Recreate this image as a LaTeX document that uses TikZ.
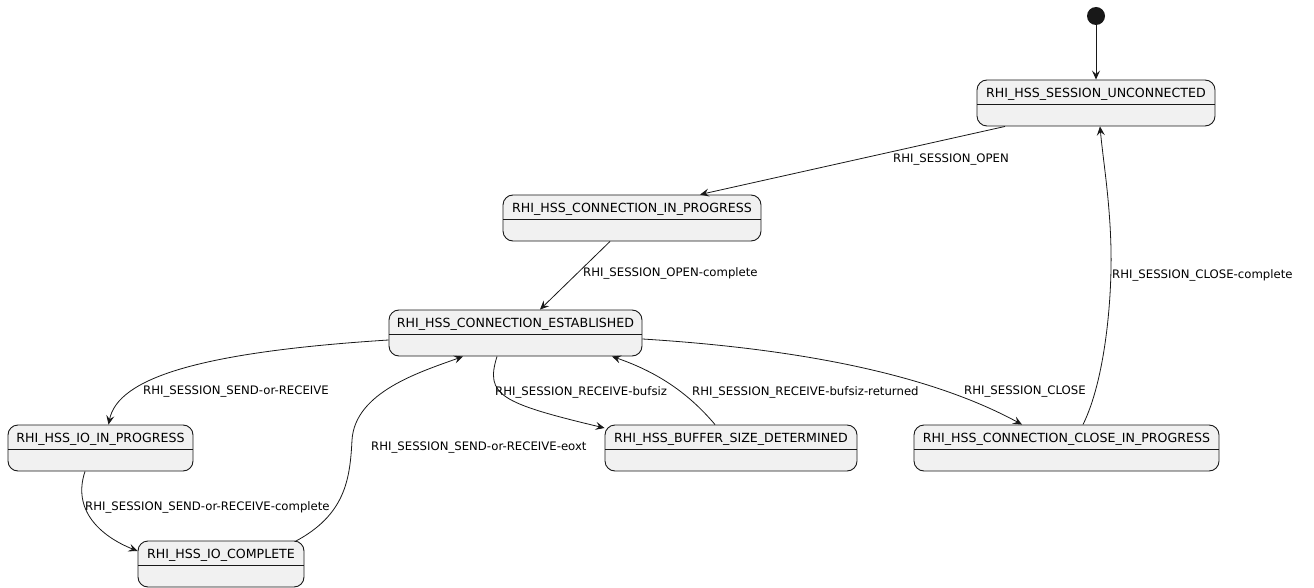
\documentclass[tikz,border=0pt]{standalone}
\usepackage{fontspec}
\setmainfont{DejaVu Sans}
\usetikzlibrary{arrows.meta,calc}
\definecolor{stfill}{HTML}{F1F1F1}
\definecolor{stline}{HTML}{181818}
\tikzset{
  st/.style={draw=stline, fill=stfill, line width=0.9pt, rounded corners=10pt,
    minimum height=46pt, inner sep=0pt, text height=17.5pt, text depth=28.5pt,
    font=\fontsize{12.6}{15}\selectfont,
    path picture={\draw[stline, line width=0.9pt]
      ([yshift=-24pt]path picture bounding box.north west) --
      ([yshift=-24pt]path picture bounding box.north east);}},
  arr/.style={draw=stline, line width=0.8pt, -{Stealth[length=9pt,width=8pt,inset=3.5pt]}},
  lbl/.style={font=\fontsize{11.7}{14}\selectfont, anchor=west, inner sep=0pt},
}
\begin{document}
\begin{tikzpicture}[x=1pt,y=-1pt]
\useasboundingbox (0,0) rectangle (1314,588);
\node[circle, fill=stline, minimum size=18pt, inner sep=0pt] (start) at (1096,16) {};
\node[st, minimum width=238pt] (u) at (1096,103) {RHI\_HSS\_SESSION\_UNCONNECTED};
\node[st, minimum width=258pt] (cip) at (632,218) {RHI\_HSS\_CONNECTION\_IN\_PROGRESS};
\node[st, minimum width=253pt] (est) at (515.5,333) {RHI\_HSS\_CONNECTION\_ESTABLISHED};
\node[st, minimum width=185pt] (io) at (100.5,448) {RHI\_HSS\_IO\_IN\_PROGRESS};
\node[st, minimum width=252pt] (buf) at (731,448) {RHI\_HSS\_BUFFER\_SIZE\_DETERMINED};
\node[st, minimum width=305pt] (close) at (1066.5,448) {RHI\_HSS\_CONNECTION\_CLOSE\_IN\_PROGRESS};
\node[st, minimum width=166pt] (ioc) at (221,564) {RHI\_HSS\_IO\_COMPLETE};

\draw[arr] (start) -- (u);
\draw[arr] ([xshift=-91pt]u.south) -- ([xshift=68pt]cip.north);
\draw[arr] ([xshift=-22pt]cip.south) -- ([xshift=24.5pt]est.north);
\draw[arr] ([yshift=-7pt]est.west) .. controls (200,352) and (118,378) .. ([xshift=8pt]io.north);
\draw[arr] ([xshift=-15.5pt]io.south) .. controls (72,510) and (100,536) .. ([yshift=13pt]ioc.west);
\draw[arr] ([xshift=74pt,yshift=-1pt]ioc.north) .. controls (345,515) and (350,480) .. (352,440)
   .. controls (355,392) and (420,372) .. ([xshift=-52.5pt]est.south);
\draw[arr] ([xshift=-18.5pt]est.south) .. controls (485,395) and (500,403) .. ([yshift=20pt]buf.west);
\draw[arr] ([xshift=-16pt]buf.north) .. controls (690,395) and (660,373) .. ([xshift=96.5pt]est.south);
\draw[arr] ([yshift=-6pt]est.east) .. controls (820,350) and (940,380) .. ([xshift=-44.5pt]close.north);
\draw[arr] ([xshift=16.5pt]close.north) .. controls (1105,380) and (1112,300) .. (1111,250)
   .. controls (1110,200) and (1103,160) .. ([xshift=4pt]u.south);

\node[lbl] (l1) at (893,160) {RHI\_SESSION\_OPEN};
\node[lbl] (l2) at (583,273) {RHI\_SESSION\_OPEN-complete};
\node[lbl] (l3) at (1112,275) {RHI\_SESSION\_CLOSE-complete};
\node[lbl] (l4) at (143,392) {RHI\_SESSION\_SEND-or-RECEIVE};
\node[lbl] (l5) at (495,392) {RHI\_SESSION\_RECEIVE-bufsiz};
\node[lbl] (l6) at (692,392) {RHI\_SESSION\_RECEIVE-bufsiz-returned};
\node[lbl] (l7) at (964,392) {RHI\_SESSION\_CLOSE};
\node[lbl] (l8) at (371,448) {RHI\_SESSION\_SEND-or-RECEIVE-eoxt};
\node[lbl] (l9) at (85,507) {RHI\_SESSION\_SEND-or-RECEIVE-complete};
\end{tikzpicture}
\end{document}
